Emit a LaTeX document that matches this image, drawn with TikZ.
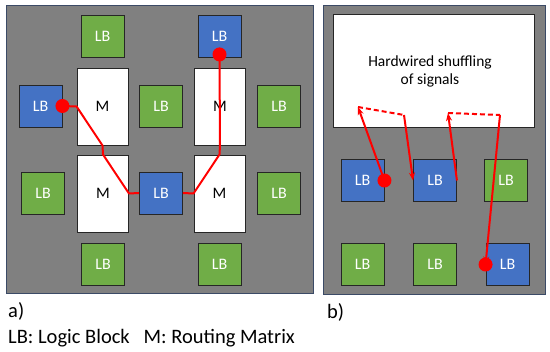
\documentclass[tikz,border=0pt]{standalone}
\usepackage{fontspec}
\setmainfont{Carlito}
\usetikzlibrary{arrows.meta,calc}
\definecolor{lbblue}{HTML}{4472C4}
\definecolor{lbgreen}{HTML}{70AD47}
\definecolor{panelgray}{HTML}{808080}
\definecolor{panelborder}{HTML}{3B4A66}
\definecolor{wirered}{HTML}{FF0000}
\begin{document}
\begin{tikzpicture}[x=1pt,y=-1pt,
  panel/.style={draw=panelborder,fill=panelgray,line width=0.8pt},
  lbbox/.style={draw=black!85,line width=0.9pt,minimum width=43pt,minimum height=42pt,inner sep=0pt,text=white,font=\fontsize{16}{18}\selectfont},
  lbg/.style={lbbox,fill=lbgreen},
  lbb/.style={lbbox,fill=lbblue},
  mat/.style={draw=black!85,fill=white,line width=0.9pt,minimum width=51pt,minimum height=77pt,inner sep=0pt,font=\fontsize{16}{18}\selectfont},
  wire/.style={draw=wirered,line width=2pt,line join=round},
  warrow/.style={wire,-{Stealth[length=8pt,width=6pt]}},
  wdash/.style={wire,dash pattern=on 5pt off 3pt},
  wdot/.style={fill=wirered,circle,inner sep=0pt,minimum size=14pt},
  lbl/.style={anchor=west,inner sep=0pt,font=\fontsize{20.5}{24}\selectfont}
]
\useasboundingbox (0,0) rectangle (550,352);
% panels
\draw[panel] (6,5) rectangle (313,293);
\draw[panel] (323,5) rectangle (545,294);
% panel a
\node[lbg] (aTL) at (102.5,36) {LB};
\node[lbb] (aTR) at (219.5,36) {LB};
\node[mat] (Mul) at (102.5,106.5) {M};
\node[mat] (Mur) at (220,106.5) {M};
\node[lbb] (aL) at (40.5,106) {LB};
\node[lbg] (aM2) at (161,106) {LB};
\node[lbg] (aR2) at (279,106) {LB};
\node[mat] (Mll) at (103,193.5) {M};
\node[mat] (Mlr) at (219.5,193.5) {M};
\node[lbg] (aL3) at (43,193) {LB};
\node[lbb] (aC) at (161,193) {LB};
\node[lbg] (aR3) at (279,193) {LB};
\node[lbg] (aBL) at (103,264) {LB};
\node[lbg] (aBR) at (219.5,264) {LB};
\draw[wire] (aL.east) -- (Mul.west) -- (Mul.south) -- (Mll.north) -- (Mll.east) -- (aC.west);
\draw[wire] (aC.east) -- (Mlr.west) -- (Mlr.north) -- (Mur.south) -- ($(aTR.south)+(0,-3)$);
\node[wdot] (d1) at (aL.east) {};
\node[wdot] (d2) at ($(aTR.south)+(0,-3)$) {};
% panel b
\node[draw=black!85,fill=white,line width=0.9pt,minimum width=201pt,minimum height=113pt,inner sep=0pt] (W) at (433.5,70.5) {};
\node[align=center,font=\fontsize{15.5}{18}\selectfont] (Wt) at (430,71) {Hardwired shuffling\\of signals};
\node[lbb] (b1) at (362.5,180.5) {LB};
\node[lbb] (b2) at (435,180.5) {LB};
\node[lbg] (b3) at (506,180.5) {LB};
\node[lbg] (b4) at (362.5,264.5) {LB};
\node[lbg] (b5) at (435,264.5) {LB};
\node[lbb] (b6) at (507.5,264.5) {LB};
\coordinate (p1) at (358,107);
\coordinate (p2) at (404,115);
\coordinate (p3) at (448,113);
\coordinate (p4) at (500,115);
\draw[warrow] (b1.east) -- (p1);
\draw[wdash] (p1) -- (p2);
\draw[warrow] (p2) -- (b2.west);
\draw[warrow] (b2.east) -- (p3);
\draw[wdash] (p3) -- (p4);
\draw[warrow] (p4) -- (b6.west);
\node[wdot] (d3) at (b1.east) {};
\node[wdot] (d4) at (b6.west) {};
% labels
\node[lbl] (la) at (8,311) {a)};
\node[lbl] (lb) at (327,312) {b)};
\node[lbl] (legend) at (8,338) {LB: Logic Block \hspace{0.45em}M: Routing Matrix};
\end{tikzpicture}
\end{document}
